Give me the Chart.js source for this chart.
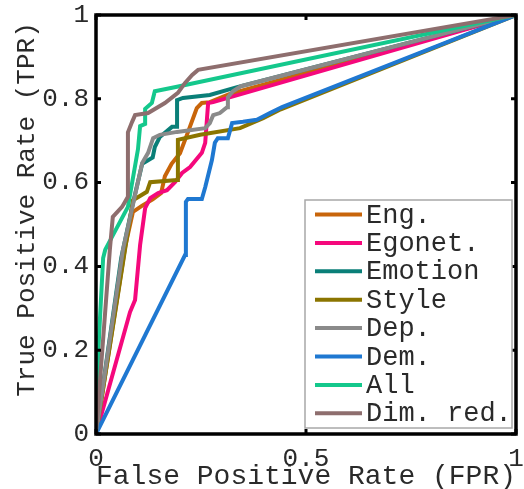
<!DOCTYPE html>
<html>
<head>
<meta charset="utf-8">
<script src="https://cdn.jsdelivr.net/npm/chart.js@4/dist/chart.umd.min.js"></script>
<style>
html,body{margin:0;padding:0;background:#fff;overflow:hidden;}
#wrap{position:relative;width:524px;height:489px;overflow:hidden;}
canvas{display:block;}
</style>
</head>
<body>
<div id="wrap"><canvas id="c" width="524" height="489"></canvas></div>
<script>
// ---- data ----
const seriesLabels = ['Eng.', 'Egonet.', 'Emotion', 'Style', 'Dep.', 'Dem.', 'All', 'Dim. red.'];
const seriesColors = ['#C8650A', '#F5087C', '#0A7F78', '#8B7500', '#8A8A8A', '#1F78D1', '#14C88C', '#8E6E6E'];

const engFPR = [0, 0.07, 0.088, 0.11, 0.135, 0.155, 0.164, 0.18, 0.2, 0.217, 0.24, 0.252, 0.271, 0.319, 1];
const engTPR = [0, 0.45, 0.53, 0.545, 0.56, 0.575, 0.615, 0.645, 0.67, 0.715, 0.778, 0.79, 0.792, 0.812, 1];

const egonetFPR = [0, 0.081, 0.093, 0.105, 0.117, 0.129, 0.148, 0.169, 0.188, 0.205, 0.224, 0.252, 0.26, 0.267, 0.279, 1];
const egonetTPR = [0, 0.291, 0.32, 0.451, 0.539, 0.563, 0.575, 0.582, 0.601, 0.623, 0.637, 0.671, 0.695, 0.79, 0.792, 1];

const emotionFPR = [0, 0.06, 0.09, 0.11, 0.135, 0.14, 0.152, 0.181, 0.193, 0.193, 0.207, 0.271, 0.336, 1];
const emotionTPR = [0, 0.42, 0.56, 0.645, 0.66, 0.685, 0.709, 0.733, 0.733, 0.797, 0.802, 0.809, 0.828, 1];

const styleFPR = [0, 0.069, 0.088, 0.121, 0.129, 0.193, 0.195, 0.248, 0.343, 0.398, 0.44, 1];
const styleTPR = [0, 0.439, 0.558, 0.578, 0.601, 0.606, 0.702, 0.714, 0.73, 0.754, 0.775, 1];

const depFPR = [0, 0.064, 0.11, 0.124, 0.136, 0.152, 0.193, 0.26, 0.271, 0.279, 0.295, 0.312, 0.314, 0.326, 0.345, 1];
const depTPR = [0, 0.439, 0.647, 0.671, 0.706, 0.714, 0.721, 0.73, 0.742, 0.761, 0.766, 0.78, 0.804, 0.818, 0.83, 1];

const demFPR = [0, 0.212, 0.214, 0.219, 0.252, 0.26, 0.276, 0.283, 0.29, 0.314, 0.324, 0.35, 0.383, 0.414, 0.443, 1];
const demTPR = [0, 0.427, 0.554, 0.561, 0.561, 0.589, 0.654, 0.695, 0.706, 0.706, 0.742, 0.745, 0.75, 0.766, 0.78, 1];

const allFPR = [0, 0.005, 0.017, 0.022, 0.076, 0.1, 0.105, 0.117, 0.117, 0.133, 0.14, 0.19, 1];
const allTPR = [0, 0.19, 0.42, 0.44, 0.542, 0.68, 0.735, 0.74, 0.776, 0.79, 0.818, 0.828, 1];

const dimFPR = [0, 0.033, 0.04, 0.062, 0.076, 0.076, 0.086, 0.093, 0.124, 0.164, 0.195, 0.212, 0.229, 0.243, 1];
const dimTPR = [0, 0.44, 0.518, 0.542, 0.566, 0.72, 0.745, 0.761, 0.766, 0.79, 0.814, 0.838, 0.857, 0.869, 1];

const xTicks = [0, 0.5, 1];
const yTicks = [0, 0.2, 0.4, 0.6, 0.8, 1];
const xTitle = 'False Positive Rate (FPR)';
const yTitle = 'True Positive Rate (TPR)';

// ---- build ----
const FONT = "'Liberation Mono', 'Courier New', monospace";
const TXT = '#2a2a2a';
const allFPRs = [engFPR, egonetFPR, emotionFPR, styleFPR, depFPR, demFPR, allFPR, dimFPR];
const allTPRs = [engTPR, egonetTPR, emotionTPR, styleTPR, depTPR, demTPR, allTPR, dimTPR];

const datasets = seriesLabels.map((lab, i) => ({
  label: lab,
  data: allFPRs[i].map((x, j) => ({x: x, y: allTPRs[i][j]})),
  borderColor: seriesColors[i],
  backgroundColor: seriesColors[i],
  borderWidth: 4,
  pointRadius: 0,
  tension: 0,
  fill: false,
  order: seriesLabels.length - i   // later series drawn on top
}));

const framePlugin = {
  id: 'frame',
  afterDraw(chart) {
    const ctx = chart.ctx, ca = chart.chartArea;
    const xs = chart.scales.x, ys = chart.scales.y;
    ctx.save();
    // inward tick marks
    ctx.strokeStyle = '#000';
    ctx.lineWidth = 3;
    ctx.beginPath();
    xTicks.forEach(v => {
      const px = xs.getPixelForValue(v);
      ctx.moveTo(px, ca.bottom); ctx.lineTo(px, ca.bottom - 5);
      ctx.moveTo(px, ca.top); ctx.lineTo(px, ca.top + 5);
    });
    yTicks.forEach(v => {
      const py = ys.getPixelForValue(v);
      ctx.moveTo(ca.left, py); ctx.lineTo(ca.left + 5, py);
      ctx.moveTo(ca.right, py); ctx.lineTo(ca.right - 5, py);
    });
    ctx.stroke();
    // frame
    ctx.lineWidth = 3.5;
    ctx.strokeRect(ca.left, ca.top, ca.right - ca.left, ca.bottom - ca.top);

    // y axis title (slightly above centre, as in the reference)
    ctx.save();
    ctx.translate(27, (ca.top + ca.bottom) / 2 - 15);
    ctx.rotate(-Math.PI / 2);
    ctx.font = '26px ' + FONT;
    ctx.fillStyle = TXT;
    ctx.textAlign = 'center';
    ctx.textBaseline = 'middle';
    ctx.fillText(yTitle, 0, 0);
    ctx.restore();

    // legend box
    const l = ca.right - 211, r = ca.right - 4, t = ca.top + 185, b = ca.bottom - 6;
    ctx.fillStyle = '#fff';
    ctx.fillRect(l, t, r - l, b - t);
    ctx.strokeStyle = '#a8a8a8';
    ctx.lineWidth = 1.5;
    ctx.strokeRect(l, t, r - l, b - t);
    ctx.font = '27px ' + FONT;
    ctx.textBaseline = 'middle';
    ctx.textAlign = 'left';
    chart.data.datasets.forEach((ds, i) => {
      const y = t + 14.5 + i * 28.4;
      ctx.strokeStyle = ds.borderColor;
      ctx.lineWidth = 4;
      ctx.beginPath();
      ctx.moveTo(l + 10, y); ctx.lineTo(l + 57, y);
      ctx.stroke();
      ctx.fillStyle = TXT;
      ctx.fillText(ds.label, l + 61, y + 1);
    });
    ctx.restore();
  }
};

const fmt = v => String(Math.round(v * 10) / 10);

new Chart(document.getElementById('c'), {
  type: 'line',
  data: { datasets: datasets },
  options: {
    responsive: false,
    animation: false,
    layout: { padding: { top: 15, right: 8, left: 0, bottom: 0 } },
    plugins: { legend: { display: false }, tooltip: { enabled: false } },
    scales: {
      x: {
        type: 'linear', min: 0, max: 1,
        afterBuildTicks: s => { s.ticks = xTicks.map(v => ({value: v})); },
        afterFit: s => { s.height = 55; s.paddingLeft = 0; s.paddingRight = 0; },
        grid: { display: false, drawTicks: false },
        border: { display: false },
        ticks: { callback: fmt, font: { family: FONT, size: 26, lineHeight: 1 }, color: TXT, padding: 12, maxRotation: 0, autoSkip: false },
        title: { display: true, text: xTitle, font: { family: FONT, size: 28, lineHeight: 1 }, color: TXT, padding: { top: 0, bottom: -2 } }
      },
      y: {
        type: 'linear', min: 0, max: 1,
        afterBuildTicks: s => { s.ticks = yTicks.map(v => ({value: v})); },
        afterFit: s => { s.width = 96; s.paddingTop = 0; s.paddingBottom = 0; },
        grid: { display: false, drawTicks: false },
        border: { display: false },
        ticks: { callback: fmt, font: { family: FONT, size: 26, lineHeight: 1 }, color: TXT, padding: 7, autoSkip: false },
        title: { display: false, text: yTitle }
      }
    }
  },
  plugins: [framePlugin]
});
</script>
</body>
</html>
